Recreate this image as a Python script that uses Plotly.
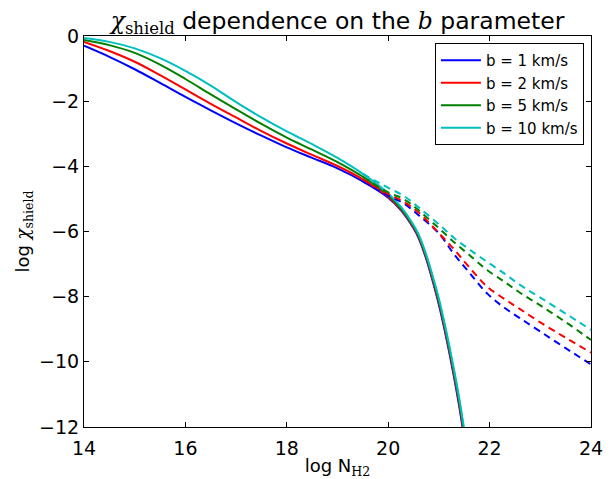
import plotly.graph_objects as go

# ---- data ----
x_solid = [14, 14.5, 15, 15.5, 16, 16.5, 17, 17.5, 18, 18.5, 19, 19.5, 20, 20.25,
           20.5, 20.6, 20.75, 20.9, 21.0, 21.1, 21.2, 21.3, 21.4, 21.5]
solid_b1 = [-0.30, -0.64, -1.02, -1.44, -1.87, -2.28, -2.68, -3.06, -3.42, -3.74, -4.06, -4.46,
            -4.96, -5.34, -5.90, -6.20, -6.84, -7.65, -8.25, -8.93, -9.68, -10.48, -11.36, -12.35]
solid_b2 = [-0.18, -0.46, -0.79, -1.20, -1.64, -2.08, -2.50, -2.92, -3.30, -3.65, -3.99, -4.40,
            -4.93, -5.32, -5.87, -6.17, -6.80, -7.60, -8.19, -8.87, -9.61, -10.41, -11.28, -12.27]
solid_b5 = [-0.12, -0.28, -0.52, -0.88, -1.32, -1.79, -2.25, -2.70, -3.12, -3.49, -3.87, -4.32,
            -4.89, -5.29, -5.84, -6.13, -6.76, -7.55, -8.13, -8.80, -9.54, -10.33, -11.20, -12.18]
solid_b10 = [-0.06, -0.18, -0.38, -0.68, -1.07, -1.52, -2.03, -2.50, -2.93, -3.32, -3.74, -4.23,
             -4.83, -5.24, -5.80, -6.09, -6.71, -7.49, -8.06, -8.73, -9.46, -10.25, -11.11, -12.08]

x_dash = [19.5, 20.0, 20.3, 20.6, 21.0, 21.3, 21.6, 21.95, 22.3, 22.6, 23.0, 23.5, 24.0]
dash_b1 = [-4.46, -4.90, -5.13, -5.50, -6.06, -6.70, -7.26, -7.90, -8.35, -8.66, -9.07, -9.58, -10.08]
dash_b2 = [-4.40, -4.85, -5.08, -5.42, -6.05, -6.55, -7.10, -7.69, -8.08, -8.38, -8.79, -9.26, -9.72]
dash_b5 = [-4.32, -4.80, -5.00, -5.35, -5.90, -6.33, -6.72, -7.18, -7.55, -7.88, -8.27, -8.78, -9.33]
dash_b10 = [-4.23, -4.66, -4.90, -5.26, -5.78, -6.20, -6.55, -6.93, -7.30, -7.64, -8.03, -8.52, -9.02]

labels = ["b = 1 km/s", "b = 2 km/s", "b = 5 km/s", "b = 10 km/s"]
colors = ["#0000ff", "#ff0000", "#008000", "#00bfbf"]
solids = [solid_b1, solid_b2, solid_b5, solid_b10]
dashes = [dash_b1, dash_b2, dash_b5, dash_b10]

fig = go.Figure()
for lab, col, ys in zip(labels, colors, solids):
    fig.add_trace(go.Scatter(x=x_solid, y=ys, mode="lines", name=lab,
                             line=dict(color=col, width=2, shape="spline", smoothing=1.0)))
for lab, col, ys in zip(labels, colors, dashes):
    fig.add_trace(go.Scatter(x=x_dash, y=ys, mode="lines", showlegend=False,
                             line=dict(color=col, width=2, dash="7px,5px", shape="spline", smoothing=1.0)))

serif = "font-family:'DejaVu Serif'"
axis_common = dict(showline=True, linecolor="black", linewidth=1, mirror="ticks",
                   ticks="inside", ticklen=5, tickwidth=1, tickcolor="black",
                   showgrid=False, zeroline=False, automargin=False,
                   tickfont=dict(family="DejaVu Sans", size=19, color="black"))

fig.update_layout(
    width=612, height=479,
    margin=dict(l=84, r=21, t=36, b=52),
    paper_bgcolor="white", plot_bgcolor="white",
    font=dict(family="DejaVu Sans", color="black"),
    title=dict(text=f"<span style=\"{serif}\"><i>χ</i><sub>shield</sub></span> dependence on the <span style=\"{serif}\"><i>b</i></span> parameter",
               x=0.5515, xanchor="center", y=0.94, yanchor="bottom",
               font=dict(size=23.5, color="black")),
    xaxis=dict(range=[14, 24], tickvals=[14, 16, 18, 20, 22, 24], ticklabelstandoff=4,
               title=dict(text=f"log N<span style=\"{serif}\"><sub>H2</sub></span>",
                          font=dict(size=18), standoff=5),
               **axis_common),
    yaxis=dict(range=[-12, 0], tickvals=[0, -2, -4, -6, -8, -10, -12],
               title=dict(text=f"log <span style=\"{serif}\"><i>χ</i><sub>shield</sub></span>",
                          font=dict(size=18), standoff=4),
               **axis_common),
    legend=dict(x=0.986, y=0.982, xanchor="right", yanchor="top",
                bgcolor="white", bordercolor="black", borderwidth=1,
                font=dict(size=15, family="DejaVu Sans"),
                itemwidth=40),
)

fig.write_html("out.html")
